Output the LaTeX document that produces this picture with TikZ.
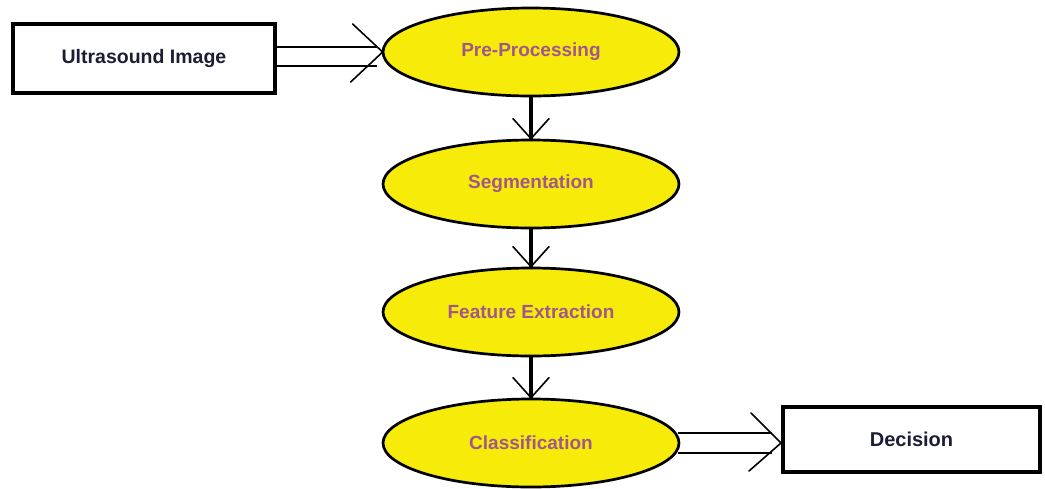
\documentclass[tikz,border=0pt]{standalone}
\usepackage{fontspec}
\setmainfont{Liberation Sans}
\usetikzlibrary{shapes.geometric,calc}
\definecolor{stepfill}{HTML}{F7EB0A}
\definecolor{steptext}{HTML}{A0588C}
\definecolor{boxtext}{HTML}{1C1C34}
\tikzset{
  stepoval/.style={ellipse, draw=black, line width=2.7pt, fill=stepfill,
    minimum width=296pt, minimum height=88pt, inner sep=0pt,
    text=steptext, font=\fontsize{19}{22}\selectfont\bfseries},
  endbox/.style={rectangle, draw=black, line width=4pt, fill=white, inner sep=0pt,
    text=boxtext, font=\fontsize{19.5}{22}\selectfont\bfseries},
  flowline/.style={line width=4pt},
  headline/.style={line width=1.6pt, line cap=round},
  railline/.style={line width=2pt}
}
\begin{document}
\begin{tikzpicture}[x=1pt,y=-1pt]
\useasboundingbox (0,0) rectangle (1045,488);

% input and output boxes
\node[endbox, minimum width=262pt, minimum height=69pt] (us) at (144,58.5) {Ultrasound Image};
\node[endbox, minimum width=257pt, minimum height=65pt, font=\fontsize{20}{22}\selectfont\bfseries] (dec) at (911.5,439.5) {Decision};

% processing stages
\node[stepoval] (pre) at (531,52)  {Pre-Processing};
\node[stepoval] (seg) at (531,184) {Segmentation};
\node[stepoval] (fex) at (531,312) {Feature Extraction};
\node[stepoval] (cls) at (531,443) {Classification};

% hollow arrow: image -> pre-processing
\coordinate (t1) at ($(pre.west)+(1,0)$);
\draw[railline] ($(us.east)+(0,-11.5)$) -- ($(us.east)+(100,-11.5)$);
\draw[railline] ($(us.east)+(0,7.5)$) -- ($(us.east)+(100,7.5)$);
\draw[headline] ($(t1)+(-30,-28)$) -- (t1) -- ($(t1)+(-32,30)$);

% chain of stages
\foreach \a/\b in {pre/seg, seg/fex, fex/cls}{
  \draw[flowline] (\a.south) -- (\b.north);
  \draw[headline] ($(\b.north)+(-18,-20)$) -- (\b.north) -- ($(\b.north)+(18,-20)$);
}

% hollow arrow: classification -> decision
\coordinate (t2) at (cls.east -| dec.west);
\draw[railline] ($(cls.east)+(-2,-10)$) -- ($(t2)+(-9,-10)$);
\draw[railline] ($(cls.east)+(-2,10)$) -- ($(t2)+(-9,10)$);
\draw[headline] ($(t2)+(-30,-30)$) -- (t2) -- ($(t2)+(-32,28)$);
\end{tikzpicture}
\end{document}
